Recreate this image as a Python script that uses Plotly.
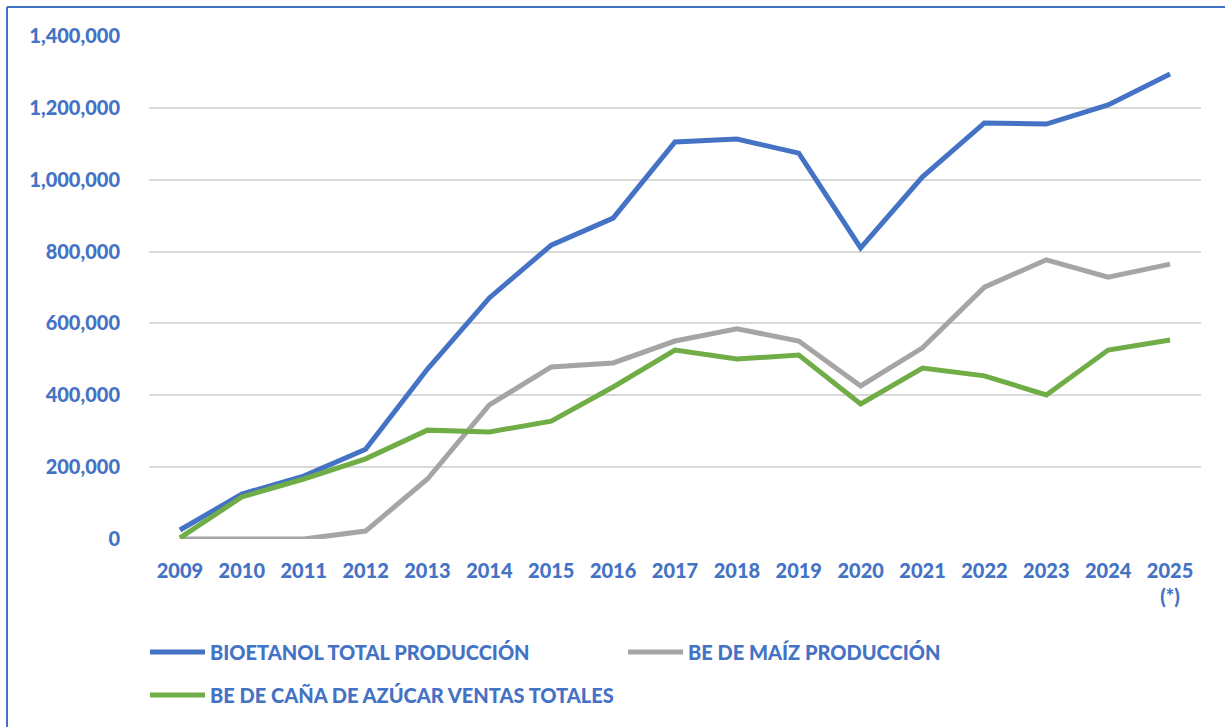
import plotly.graph_objects as go

years = ["2009", "2010", "2011", "2012", "2013", "2014", "2015", "2016", "2017",
         "2018", "2019", "2020", "2021", "2022", "2023", "2024", "2025<br>(*)"]
bioetanol_total = [25000, 125000, 175000, 250000, 473000, 671000, 818000, 893000, 1105000,
                   1113000, 1074000, 810000, 1008000, 1158000, 1155000, 1208000, 1294000]
be_maiz = [0, 0, 0, 22000, 167000, 373000, 479000, 490000, 551000,
           585000, 551000, 426000, 532000, 701000, 777000, 729000, 765000]
be_cana = [3000, 117000, 167000, 223000, 303000, 298000, 328000, 423000, 526000,
           501000, 512000, 376000, 476000, 454000, 401000, 526000, 554000]

series = [
    ("BIOETANOL TOTAL PRODUCCIÓN", bioetanol_total, "#4472C4", "legend"),
    ("BE DE MAÍZ PRODUCCIÓN", be_maiz, "#A5A5A5", "legend"),
    ("BE DE CAÑA DE AZÚCAR VENTAS TOTALES", be_cana, "#70AD47", "legend2"),
]

FONT = "Lato"
BLUE = "#4472C4"
tick_font = dict(family=FONT, color=BLUE, size=20, weight=900)
leg_font = dict(family=FONT, color=BLUE, size=20, weight=900)

fig = go.Figure()
for name, vals, color, leg in series:
    fig.add_trace(go.Scatter(x=years, y=vals, name=name, mode="lines",
                             line=dict(color=color, width=5), legend=leg))

W, H = 1225, 727
L, R, T, B = 149, 24, 36, 188
pw = W - L - R
ph = H - T - B

common_leg = dict(orientation="h", xref="container", yref="container",
                  xanchor="left", yanchor="middle",
                  entrywidth=408, entrywidthmode="pixels",
                  font=leg_font, itemwidth=55, bgcolor="rgba(0,0,0,0)")

fig.update_layout(
    width=W, height=H,
    margin=dict(l=L, r=R, t=T, b=B),
    paper_bgcolor="white", plot_bgcolor="white",
    font=dict(family=FONT, color=BLUE, size=19),
    showlegend=True,
    legend=dict(common_leg, x=145 / W, y=1 - 652 / H),
    legend2=dict(common_leg, x=145 / W, y=1 - 695 / H),
    xaxis=dict(type="category", range=[-0.5, 16.5], showgrid=False,
               showline=False, zeroline=False, ticks="",
               tickfont=tick_font, ticklabelstandoff=18),
    yaxis=dict(range=[0, 1400000], dtick=200000, tickformat=",d",
               showgrid=True, gridcolor="#D9D9D9", gridwidth=1.5,
               zeroline=False, showline=False, ticks="",
               tickfont=tick_font, ticklabelstandoff=28),
    shapes=[
        dict(type="line", xref="paper", yref="paper",
             x0=(7 - L) / pw, x1=(W - L) / pw,
             y0=(H - B - 7) / ph, y1=(H - B - 7) / ph,
             line=dict(color=BLUE, width=2)),
        dict(type="line", xref="paper", yref="paper",
             x0=(7 - L) / pw, x1=(7 - L) / pw,
             y0=(H - B - 7) / ph, y1=-B / ph,
             line=dict(color=BLUE, width=2)),
    ],
)

fig.write_html("out.html", config={"displayModeBar": False},
               post_script="document.body.style.margin='0';")
